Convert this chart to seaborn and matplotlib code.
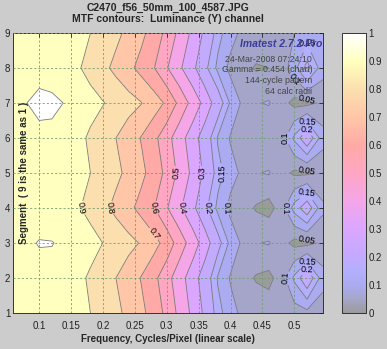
import numpy as np
import matplotlib
matplotlib.use("Agg")
import matplotlib.pyplot as plt
import seaborn as sns
from matplotlib.colors import LinearSegmentedColormap, Normalize
from matplotlib.cm import ScalarMappable

# ---------------- data ----------------
freq = [0.059, 0.08, 0.10, 0.12, 0.14, 0.16, 0.18, 0.20, 0.22, 0.24, 0.26, 0.28,
        0.30, 0.32, 0.34, 0.36, 0.38, 0.40, 0.42, 0.44, 0.46, 0.48, 0.50, 0.52, 0.545]
segments = [1, 2, 3, 4, 5, 6, 7, 8, 9]

mtf_seg1 = [0.972, 0.978, 0.982, 0.980, 0.965, 0.940, 0.901, 0.862, 0.823, 0.777, 0.724, 0.657,
            0.574, 0.473, 0.380, 0.279, 0.169, 0.120, 0.085, 0.085, 0.080, 0.070, 0.075, 0.085, 0.070]
mtf_seg2 = [0.970, 0.975, 0.980, 0.982, 0.960, 0.930, 0.884, 0.842, 0.801, 0.748, 0.695, 0.626,
            0.537, 0.441, 0.351, 0.244, 0.145, 0.095, 0.070, 0.045, 0.035, 0.075, 0.160, 0.250, 0.120]
mtf_seg3 = [0.978, 0.990, 1.003, 1.002, 0.990, 0.970, 0.940, 0.899, 0.864, 0.830, 0.792, 0.735,
            0.661, 0.555, 0.453, 0.353, 0.225, 0.135, 0.088, 0.097, 0.104, 0.070, 0.035, 0.035, 0.060]
mtf_seg4 = [0.965, 0.970, 0.972, 0.965, 0.945, 0.912, 0.868, 0.824, 0.777, 0.726, 0.668, 0.604,
            0.508, 0.416, 0.329, 0.216, 0.1375, 0.085, 0.070, 0.045, 0.030, 0.075, 0.170, 0.240, 0.110]
mtf_seg5 = [0.972, 0.978, 0.982, 0.980, 0.965, 0.940, 0.901, 0.862, 0.823, 0.777, 0.724, 0.657,
            0.574, 0.473, 0.380, 0.279, 0.169, 0.120, 0.088, 0.097, 0.104, 0.070, 0.040, 0.040, 0.060]
mtf_seg6 = [0.970, 0.975, 0.980, 0.982, 0.960, 0.930, 0.884, 0.842, 0.801, 0.748, 0.695, 0.626,
            0.537, 0.441, 0.351, 0.244, 0.145, 0.095, 0.075, 0.055, 0.052, 0.075, 0.160, 0.250, 0.120]
mtf_seg7 = [0.985, 0.999, 1.020, 1.015, 0.998, 0.967, 0.936, 0.905, 0.872, 0.838, 0.804, 0.749,
            0.683, 0.574, 0.467, 0.369, 0.242, 0.142, 0.088, 0.097, 0.104, 0.070, 0.035, 0.035, 0.060]
mtf_seg8 = [0.965, 0.970, 0.972, 0.965, 0.945, 0.912, 0.868, 0.824, 0.777, 0.726, 0.668, 0.604,
            0.508, 0.416, 0.329, 0.216, 0.1375, 0.085, 0.065, 0.045, 0.050, 0.070, 0.130, 0.220, 0.120]
mtf_seg9 = [0.972, 0.978, 0.982, 0.980, 0.965, 0.940, 0.901, 0.862, 0.823, 0.777, 0.724, 0.657,
            0.574, 0.473, 0.380, 0.279, 0.169, 0.120, 0.085, 0.085, 0.075, 0.075, 0.100, 0.120, 0.100]

levels = [0, 0.05, 0.1, 0.15, 0.2, 0.3, 0.4, 0.5, 0.6, 0.7, 0.8, 0.9, 1.0, 1.1]
label_levels = [0.05, 0.1, 0.15, 0.2, 0.3, 0.4, 0.5, 0.6, 0.7, 0.8, 0.9]
xtick_vals = [0.1, 0.15, 0.2, 0.25, 0.3, 0.35, 0.4, 0.45, 0.5]
xtick_labels = ["0.1", "0.15", "0.2", "0.25", "0.3", "0.35", "0.4", "0.45", "0.5"]
cbar_ticks = [0, 0.1, 0.2, 0.3, 0.4, 0.5, 0.6, 0.7, 0.8, 0.9, 1.0]
cbar_labels = ["0", "0.1", "0.2", "0.3", "0.4", "0.5", "0.6", "0.7", "0.8", "0.9", "1"]

title1 = "C2470_f56_50mm_100_4587.JPG"
title2 = "MTF contours:  Luminance (Y) channel"
xlabel = "Frequency, Cycles/Pixel (linear scale)"
ylabel = "Segment  ( 9 is the same as 1 )"
stamp_lines = ["24-Mar-2008 07:24:10", "Gamma = 0.454 (chart)", "144-cycle pattern", "64 calc radii"]

# ---------------- style ----------------
sns.set_style("white")
plt.rcParams['font.family'] = ['Liberation Sans', 'DejaVu Sans']

cmap_nodes = [
    (0.00, "#9b9b9b"), (0.05, "#a6a6cc"), (0.10, "#ababf2"), (0.15, "#b4affd"),
    (0.20, "#c2aaff"), (0.30, "#dba6ff"), (0.40, "#f4a6e8"), (0.50, "#ffa6c4"),
    (0.60, "#ffaaa6"), (0.70, "#ffc6a8"), (0.80, "#fbdfae"), (0.90, "#ffffbe"),
    (1.00, "#ffffff"),
]
cmap = LinearSegmentedColormap.from_list("mtf", cmap_nodes, N=256)
band_colors = [cmap(l) for l in levels[:-1]]

fig = plt.figure(figsize=(3.87, 3.49), dpi=100, facecolor="#cccccc")
ax = fig.add_axes([13/387, 1-313/349, 310/387, 280/349])
cax = fig.add_axes([342/387, 1-313/349, 24/387, 280/349])

X, Y = np.meshgrid(freq, segments)
Z = np.array([mtf_seg1, mtf_seg2, mtf_seg3, mtf_seg4, mtf_seg5,
              mtf_seg6, mtf_seg7, mtf_seg8, mtf_seg9])

ax.contourf(X, Y, Z, levels=levels, colors=band_colors, zorder=1)
cs = ax.contour(X, Y, Z, levels=levels[1:-1], colors="#7a7a7a", linewidths=0.6, zorder=2)
ax.clabel(cs, levels=label_levels, fmt="%g", fontsize=6.5, colors="black",
          inline=True, inline_spacing=1)

ax.set_xlim(freq[0], freq[-1])
ax.set_ylim(1, 9)
ax.set_xticks(xtick_vals)
ax.set_xticklabels(xtick_labels)
ax.set_yticks(segments)
ax.tick_params(direction="in", top=True, right=True, length=3, width=0.6,
               labelsize=7, colors="#222222")
ax.tick_params(axis="x", pad=6)
ax.tick_params(axis="y", pad=2)
ax.set_axisbelow(False)
ax.grid(True, color="#6e9e6e", linestyle=(0, (2.5, 2.5)), linewidth=0.6)
for sp in ax.spines.values():
    sp.set_color("#333333")
    sp.set_linewidth(0.7)

ax.text(0.035, 0.5, ylabel, transform=ax.transAxes, rotation=90, ha="center",
        va="center", fontsize=7, fontweight="bold", zorder=6)
fig.text(168/387, 1-339/349, xlabel, ha="center", va="center", fontsize=7, fontweight="bold")
fig.text(168/387, 1-8/349, title1, ha="center", va="center", fontsize=7.5, fontweight="bold")
fig.text(168/387, 1-19/349, title2, ha="center", va="center", fontsize=7.5, fontweight="bold")

ax.text(0.4156, 8.686, "Imatest 2.7.2 Pro", style="italic", fontweight="bold",
        color="#3c3c9c", fontsize=7.5, ha="left", va="center", zorder=6)
for i, line in enumerate(stamp_lines):
    ax.text(0.528, 8.257 - i*0.314, line, fontsize=6.3, color="#444444",
            ha="right", va="center", zorder=6)

cb = fig.colorbar(ScalarMappable(norm=Normalize(0, 1), cmap=cmap), cax=cax)
cb.set_ticks(cbar_ticks)
cb.set_ticklabels(cbar_labels)
cb.outline.set_edgecolor("#333333")
cb.outline.set_linewidth(0.7)
cax.yaxis.set_ticks_position("both")
cax.tick_params(direction="in", length=3, width=0.6, labelsize=7, pad=2,
                colors="#222222", labelright=True, labelleft=False)

fig.savefig("out.png", dpi=100, facecolor=fig.get_facecolor())
